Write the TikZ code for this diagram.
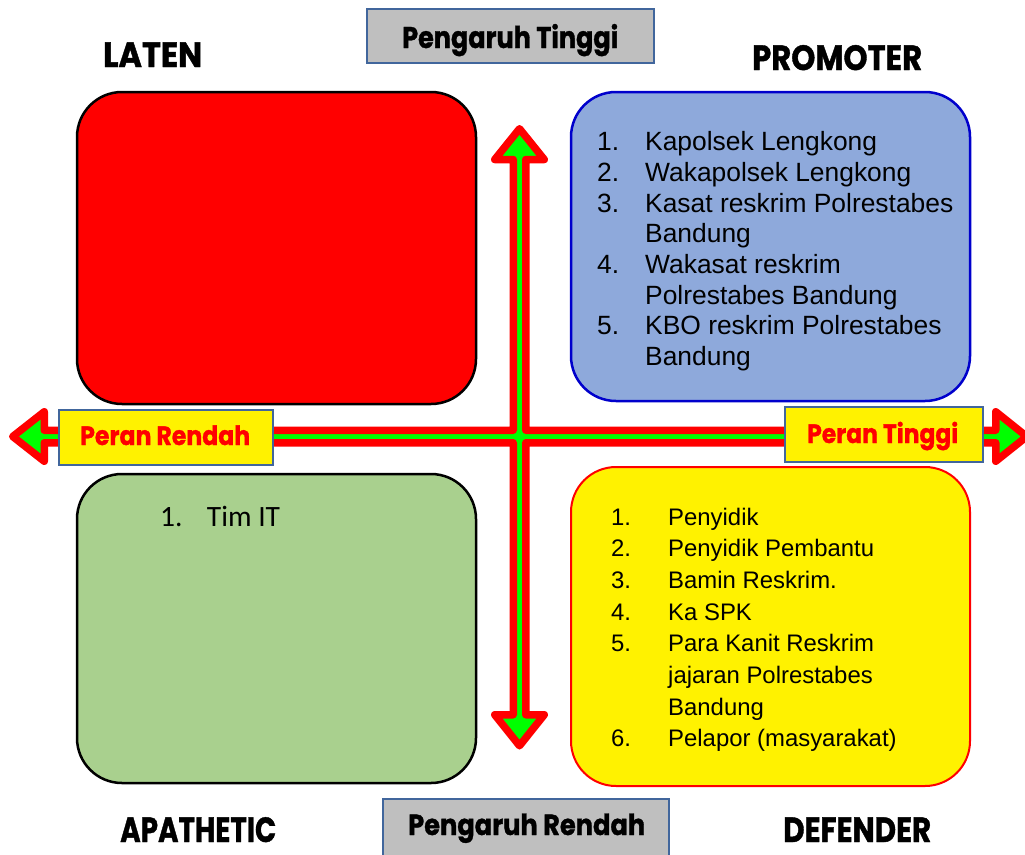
\documentclass[tikz,border=0pt]{standalone}
\usepackage{fontspec}
\usepackage{graphicx}
\setmainfont{Liberation Sans}
\newfontfamily\lblfont{Poppins}[BoldFeatures={FakeBold=1.2}]
\newfontfamily\calfont{Carlito}
\definecolor{quadblue}{HTML}{8EA9DB}
\definecolor{quadblueline}{HTML}{0000CC}
\definecolor{quadgreen}{HTML}{A9D08E}
\definecolor{axisgreen}{HTML}{00FF00}
\definecolor{lblgray}{HTML}{BFBFBF}
\definecolor{lblline}{HTML}{41669C}
\newcommand\fitw[3]{\resizebox{#1}{\height}{\fontsize{#2}{#2}\selectfont #3}}
\tikzset{
  quadbox/.style={rectangle, rounded corners=45pt, line width=2.5pt, minimum width=399pt, inner sep=0pt},
  lblbox/.style={rectangle, draw=lblline, line width=2pt, inner sep=0pt},
  heading/.style={anchor=base west, inner sep=0pt, font=\lblfont\bfseries},
  listtxt/.style={anchor=base west, inner sep=0pt},
  axisshape/.style={draw=red, fill=axisgreen, line width=7.5pt, line join=round}
}
\begin{document}
\begin{tikzpicture}[x=1pt,y=-1pt]
\useasboundingbox (0,0) rectangle (1025,854);
\fill[white] (0,0) rectangle (1025,854);

% quadrants
\node[quadbox, draw=black, fill=red, minimum height=312pt] (laten) at (276.5,248) {};
\node[quadbox, draw=quadblueline, fill=quadblue, minimum height=309pt] (promoter) at (770.5,246.5) {};
\node[quadbox, draw=black, fill=quadgreen, minimum height=309pt] (apathetic) at (276.5,628.5) {};
\node[quadbox, draw=red, fill=yellow, line width=2pt, minimum height=319pt] (defender) at (770.5,626.5) {};

% axes (one cross-shaped outline, stroked over its fill)
\path[axisshape] (12.75,436.5) -- (44.25,411.75) -- (44.25,430.25) -- (513.25,430.25)
  -- (513.25,159.5) -- (494.75,159.5) -- (519.5,128.75) -- (544.25,159.5) -- (525.75,159.5)
  -- (525.75,430.25) -- (995.75,430.25) -- (995.75,411.75) -- (1026.75,436.5) -- (995.75,461.25)
  -- (995.75,442.75) -- (525.75,442.75) -- (525.75,714.75) -- (544.25,714.75) -- (519.5,745.75)
  -- (494.75,714.75) -- (513.25,714.75) -- (513.25,442.75) -- (44.25,442.75) -- (44.25,461.25) -- cycle;

% label boxes
\node[lblbox, fill=lblgray, minimum width=287pt, minimum height=54pt] (tinggibox) at (510.5,36) {};
\node[lblbox, fill=lblgray, minimum width=286pt, minimum height=70pt] (rendahbox) at (526,834) {};
\node[lblbox, fill=yellow, minimum width=214pt, minimum height=55pt] (peranrbox) at (166,437) {};
\node[lblbox, fill=yellow, minimum width=198pt, minimum height=55pt] (perantbox) at (884,434.5) {};

\node[heading] (tinggi) at (402,48) {\fitw{216pt}{30pt}{Pengaruh Tinggi}};
\node[heading] (rendah) at (408,835) {\fitw{237pt}{29pt}{Pengaruh Rendah}};
\node[heading, text=red] (peranr) at (80,445) {\fitw{170pt}{26.5pt}{Peran Rendah}};
\node[heading, text=red] (perant) at (807,443) {\fitw{151pt}{26.5pt}{Peran Tinggi}};

\node[heading] (hlaten) at (103,67) {\fitw{99pt}{35pt}{LATEN}};
\node[heading] (hpromoter) at (752,70) {\fitw{170pt}{35pt}{PROMOTER}};
\node[heading] (hapathetic) at (120,842) {\fitw{156pt}{35pt}{APATHETIC}};
\node[heading] (hdefender) at (783,842) {\fitw{148pt}{35pt}{DEFENDER}};

% promoter list
\begin{scope}[font=\fontsize{26.4pt}{30pt}\selectfont]
\node[listtxt] (pn1) at (597,150.7) {1.};
\node[listtxt] (pt1) at (645,150.7) {Kapolsek Lengkong};
\node[listtxt] (pn2) at (597,181.5) {2.};
\node[listtxt] (pt2) at (645,181.5) {Wakapolsek Lengkong};
\node[listtxt] (pn3) at (597,212.2) {3.};
\node[listtxt] (pt3) at (645,212.2) {Kasat reskrim Polrestabes};
\node[listtxt] (pt3b) at (645,242.8) {Bandung};
\node[listtxt] (pn4) at (597,273.3) {4.};
\node[listtxt] (pt4) at (645,273.3) {Wakasat reskrim};
\node[listtxt] (pt4b) at (645,304) {Polrestabes Bandung};
\node[listtxt] (pn5) at (597,334.4) {5.};
\node[listtxt] (pt5) at (645,334.4) {KBO reskrim Polrestabes};
\node[listtxt] (pt5b) at (645,365) {Bandung};
\end{scope}

% defender list
\begin{scope}[font=\fontsize{23.9pt}{30pt}\selectfont]
\node[listtxt] (dn1) at (611,525) {1.};
\node[listtxt] (dt1) at (668,525) {Penyidik};
\node[listtxt] (dn2) at (611,556.7) {2.};
\node[listtxt] (dt2) at (668,556.7) {Penyidik Pembantu};
\node[listtxt] (dn3) at (611,588.3) {3.};
\node[listtxt] (dt3) at (668,588.3) {Bamin Reskrim.};
\node[listtxt] (dn4) at (611,620) {4.};
\node[listtxt] (dt4) at (668,620) {Ka SPK};
\node[listtxt] (dn5) at (611,651.7) {5.};
\node[listtxt] (dt5) at (668,651.7) {Para Kanit Reskrim};
\node[listtxt] (dt5b) at (668,683.3) {jajaran Polrestabes};
\node[listtxt] (dt5c) at (668,715) {Bandung};
\node[listtxt] (dn6) at (611,746.7) {6.};
\node[listtxt] (dt6) at (668,746.7) {Pelapor (masyarakat)};
\end{scope}

% apathetic list
\node[listtxt, font=\calfont\fontsize{29.5pt}{32pt}\selectfont] (an1) at (160,526.7) {1.};
\node[listtxt, font=\calfont\fontsize{29.5pt}{32pt}\selectfont] (at1) at (206.7,526.7) {Tim IT};
\end{tikzpicture}
\end{document}
